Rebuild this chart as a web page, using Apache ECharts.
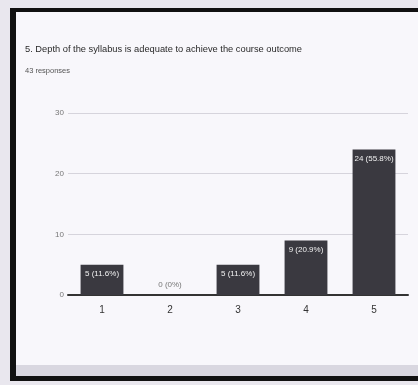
<!DOCTYPE html>
<html><head><meta charset="utf-8">
<script src="https://cdn.jsdelivr.net/npm/echarts@6/dist/echarts.min.js"></script>
<style>
html,body{margin:0;padding:0;width:418px;height:385px;overflow:hidden;background:#e9e7ee;}
#frame{position:absolute;left:10px;top:8px;width:408px;height:373px;box-sizing:border-box;border-left:6px solid #111;border-top:4px solid #111;border-bottom:5px solid #111;background:#f8f7fb;}
#strip{position:absolute;left:16px;top:365px;width:402px;height:11px;background:#d9d7e0;}
#chart{position:absolute;left:0;top:0;width:418px;height:385px;}
</style></head>
<body>
<div id="frame"></div><div id="strip"></div>
<div id="chart"></div>
<script>
const categories = ['1', '2', '3', '4', '5'];
const counts = [5, 0, 5, 9, 24];
const percents = ['11.6%', '0%', '11.6%', '20.9%', '55.8%'];
const yTicks = [0, 10, 20, 30];
const titleText = '5. Depth of the syllabus is adequate to achieve the course outcome';
const subText = '43 responses';

const chart = echarts.init(document.getElementById('chart'), null, {renderer: 'canvas'});
chart.setOption({
  animation: false,
  title: {
    text: titleText,
    subtext: subText,
    left: 20, top: 40,
    itemGap: 13,
    textStyle: {fontFamily: 'Liberation Sans, sans-serif', fontSize: 9.3, fontWeight: 'normal', color: '#2a2a2a'},
    subtextStyle: {fontFamily: 'Liberation Sans, sans-serif', fontSize: 7.5, color: '#555'}
  },
  grid: {left: 68, right: 10, top: 113, bottom: 90, containLabel: false},
  xAxis: {
    type: 'category', data: categories,
    axisLine: {lineStyle: {color: '#333', width: 2}},
    axisTick: {show: false},
    axisLabel: {color: '#333', fontSize: 10, margin: 10, fontFamily: 'Liberation Sans, sans-serif'}
  },
  yAxis: {
    type: 'value', min: 0, max: 30, interval: 10,
    axisLine: {show: false}, axisTick: {show: false},
    axisLabel: {color: '#777', fontSize: 8, margin: 4, fontFamily: 'Liberation Sans, sans-serif',
      formatter: v => yTicks.includes(v) ? String(v) : ''},
    splitLine: {lineStyle: {color: '#d6d4dc', width: 1}}
  },
  series: [{
    type: 'bar',
    data: counts.map((c, i) => ({
      value: c,
      label: c === 0 ? {position: 'top', color: '#777', distance: 6} : {}
    })),
    barWidth: '63%',
    itemStyle: {color: '#3a3940'},
    label: {
      show: true, position: 'insideTop', distance: 5,
      color: '#f0f0f0', fontSize: 8, fontFamily: 'Liberation Sans, sans-serif',
      formatter: p => counts[p.dataIndex] + ' (' + percents[p.dataIndex] + ')'
    }
  }]
});
</script>
</body></html>
